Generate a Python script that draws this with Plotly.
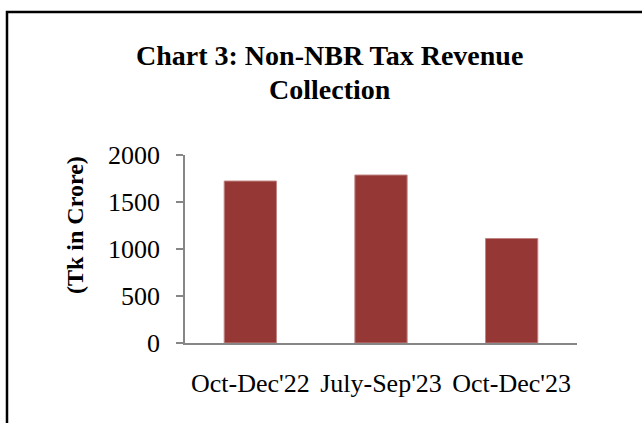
import plotly.graph_objects as go

categories = ["Oct-Dec'22", "July-Sep'23", "Oct-Dec'23"]
values = [1723, 1787, 1112]
y_ticks = [0, 500, 1000, 1500, 2000]

W, H = 642, 423
L, R, T, B = 185, 65, 155, 80
pw, ph = W - L - R, H - T - B

def px_x(x):
    return (x - L) / pw

def px_y(y):
    return (H - B - y) / ph

SERIF = "Liberation Serif"

fig = go.Figure()
fig.add_trace(go.Bar(
    x=categories, y=values,
    marker=dict(color="#953735", line=dict(color="#c08583", width=1)),
    width=0.4,
))

fig.update_layout(
    width=W, height=H,
    margin=dict(l=L, r=R, t=T, b=B, pad=0),
    paper_bgcolor="white", plot_bgcolor="white",
    showlegend=False,
    font=dict(family=SERIF, color="black", size=26),
    xaxis=dict(
        showline=True, linecolor="#868686", linewidth=1.5,
        ticks="", showgrid=False, zeroline=False,
        tickfont=dict(family=SERIF, size=26, color="black"), ticklabelstandoff=16,
    ),
    yaxis=dict(
        range=[0, 2000], tickvals=y_ticks, ticktext=[str(v) for v in y_ticks],
        showline=True, linecolor="#868686", linewidth=1.5,
        ticks="outside", ticklen=7, tickcolor="#868686", tickwidth=1.5,
        showgrid=False, zeroline=False,
        tickfont=dict(family=SERIF, size=26, color="black"), ticklabelstandoff=11,
    ),
    annotations=[
        dict(text="<b>Chart 3: Non-NBR Tax Revenue</b>", xref="paper", yref="paper",
             x=px_x(329.5), y=px_y(55), xanchor="center", yanchor="middle",
             showarrow=False, font=dict(family=SERIF, size=28, color="black")),
        dict(text="<b>Collection</b>", xref="paper", yref="paper",
             x=px_x(329.5), y=px_y(89), xanchor="center", yanchor="middle",
             showarrow=False, font=dict(family=SERIF, size=28, color="black")),
        dict(text="<b>(Tk in Crore)</b>", xref="paper", yref="paper",
             x=px_x(75), y=px_y(225), xanchor="center", yanchor="middle",
             textangle=-90, showarrow=False, font=dict(family=SERIF, size=24, color="black")),
    ],
    shapes=[
        dict(type="rect", xref="paper", yref="paper",
             x0=px_x(7), y0=px_y(12), x1=px_x(680), y1=px_y(460),
             line=dict(color="black", width=2.5), fillcolor="rgba(0,0,0,0)", layer="above"),
    ],
)

fig.write_html("out.html")
